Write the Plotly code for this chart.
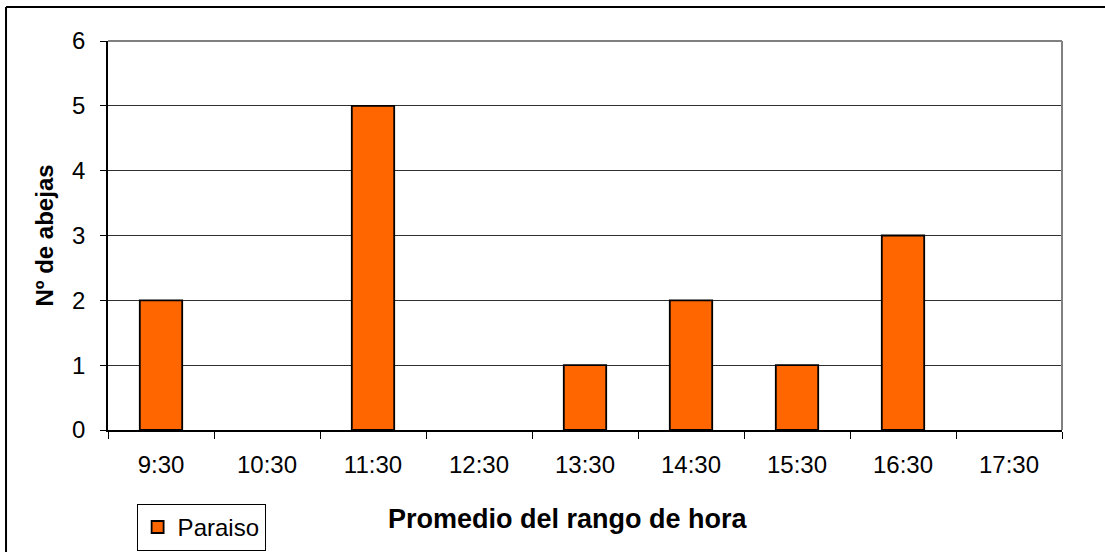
import plotly.graph_objects as go

# Bee counts per hourly range
horas = ["9:30", "10:30", "11:30", "12:30", "13:30", "14:30", "15:30", "16:30", "17:30"]
paraiso = [2, 0, 5, 0, 1, 2, 1, 3, 0]
y_ticks = [0, 1, 2, 3, 4, 5, 6]

FONT = "Liberation Sans, Arial, sans-serif"

# no outline on empty bars
outline = [1.8 if v > 0 else 0 for v in paraiso]

fig = go.Figure()
fig.add_trace(go.Bar(
    x=horas,
    y=paraiso,
    name="Paraiso",
    marker=dict(color="#FF6600", line=dict(color="#000000", width=outline)),
))

fig.update_layout(
    width=1105,
    height=552,
    margin=dict(l=108, r=43, t=41, b=122, autoexpand=False),
    paper_bgcolor="white",
    plot_bgcolor="white",
    bargap=0.6,
    font=dict(family=FONT, color="#000000", size=24),
    showlegend=True,
    legend=dict(
        x=0.030, y=-0.19, xanchor="left", yanchor="top",
        bordercolor="#000000", borderwidth=1,
        font=dict(family=FONT, size=24),
        itemwidth=30,
        tracegroupgap=0,
    ),
    xaxis=dict(
        type="category",
        tickson="boundaries",
        ticks="outside", ticklen=7, tickcolor="#000000",
        showline=True, linecolor="#000000", linewidth=1.5,
        showgrid=False,
        automargin=False,
        tickfont=dict(size=24),
        ticklabelstandoff=12,
    ),
    yaxis=dict(
        range=[0, 6],
        tickvals=y_ticks,
        ticks="outside", ticklen=6, tickcolor="#000000",
        showline=True, linecolor="#000000", linewidth=1.5,
        showgrid=True, gridcolor="#303030", gridwidth=1,
        zeroline=False,
        automargin=False,
        tickfont=dict(size=24),
        ticklabelstandoff=10,
        title=dict(text="<b>Nº de abejas</b>", font=dict(size=24), standoff=12),
    ),
    annotations=[
        # x-axis title, sitting to the right of the legend
        dict(text="<b>Promedio del rango de hora</b>", xref="paper", yref="paper",
             x=0.4817, y=-0.2288, xanchor="center", yanchor="middle",
             showarrow=False, font=dict(family=FONT, size=27, color="#000000")),
    ],
    shapes=[
        # gray right and top border of the plot area
        dict(type="line", xref="paper", yref="paper", x0=1, x1=1, y0=0, y1=1,
             line=dict(color="#808080", width=2)),
        dict(type="line", xref="paper", yref="paper", x0=0, x1=1, y0=1, y1=1,
             line=dict(color="#808080", width=2)),
        # outer chart frame (top and left edges)
        dict(type="line", xref="paper", yref="paper", x0=-0.1069, x1=-0.1069, y0=-1, y1=1.0874,
             line=dict(color="#000000", width=2)),
        dict(type="line", xref="paper", yref="paper", x0=-0.1069, x1=1.2, y0=1.0874, y1=1.0874,
             line=dict(color="#000000", width=2)),
    ],
)

fig.write_html("out.html")
